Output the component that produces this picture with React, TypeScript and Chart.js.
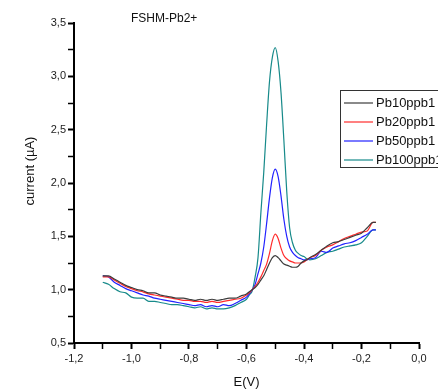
import React, { useEffect, useRef } from "react";
import { Chart, registerables } from "chart.js";

Chart.register(...registerables);

// Potential (V)
const potentials = [
  -1.10, -1.08, -1.06, -1.04, -1.02, -1.00, -0.98, -0.96, -0.94, -0.92,
  -0.90, -0.88, -0.86, -0.84, -0.82, -0.80, -0.78, -0.76, -0.74, -0.72,
  -0.70, -0.68, -0.66, -0.64, -0.62, -0.60,
  -0.59, -0.58, -0.57, -0.56, -0.55, -0.54, -0.53, -0.52, -0.51, -0.50,
  -0.49, -0.48, -0.47, -0.46, -0.45, -0.44, -0.43, -0.42, -0.41, -0.40,
  -0.39, -0.38,
  -0.36, -0.34, -0.32, -0.30, -0.28, -0.26, -0.24, -0.22, -0.20, -0.18,
  -0.16, -0.15,
];

// Current (µA)
const pb10 = [
  1.13, 1.13, 1.10, 1.07, 1.04, 1.02, 1.00, 0.99, 0.97, 0.97,
  0.95, 0.94, 0.93, 0.92, 0.92, 0.91, 0.90, 0.91, 0.90, 0.91,
  0.90, 0.91, 0.92, 0.92, 0.94, 0.96,
  0.98, 1.00, 1.02, 1.05, 1.09, 1.13, 1.19, 1.25, 1.30, 1.32,
  1.30, 1.27, 1.24, 1.23, 1.22, 1.21, 1.21, 1.22, 1.25, 1.27,
  1.28, 1.30,
  1.33, 1.37, 1.41, 1.44, 1.45, 1.47, 1.49, 1.51, 1.53, 1.58,
  1.63, 1.63,
];

const pb20 = [
  1.12, 1.12, 1.09, 1.06, 1.03, 1.01, 0.99, 0.98, 0.96, 0.95,
  0.94, 0.93, 0.92, 0.91, 0.90, 0.90, 0.89, 0.89, 0.88, 0.89,
  0.88, 0.89, 0.90, 0.91, 0.92, 0.95,
  0.97, 1.00, 1.03, 1.07, 1.12, 1.18, 1.24, 1.34, 1.46, 1.52,
  1.48, 1.39, 1.32, 1.29, 1.27, 1.26, 1.25, 1.25, 1.25, 1.26,
  1.28, 1.30,
  1.32, 1.37, 1.40, 1.42, 1.45, 1.48, 1.50, 1.52, 1.54, 1.55,
  1.63, 1.63,
];

const pb50 = [
  1.13, 1.12, 1.07, 1.04, 1.01, 0.99, 0.97, 0.95, 0.94, 0.92,
  0.91, 0.90, 0.89, 0.88, 0.87, 0.86, 0.85, 0.86, 0.84, 0.85,
  0.84, 0.86, 0.85, 0.87, 0.90, 0.93,
  0.96, 1.00, 1.05, 1.15, 1.25, 1.40, 1.62, 1.86, 2.05, 2.13,
  2.06, 1.88, 1.66, 1.50, 1.40, 1.35, 1.32, 1.30, 1.29, 1.28,
  1.28, 1.29,
  1.30, 1.36, 1.35, 1.39, 1.41, 1.43, 1.44, 1.46, 1.49, 1.52,
  1.56, 1.56,
];

const pb100 = [
  1.07, 1.05, 1.01, 0.98, 0.97, 0.93, 0.92, 0.92, 0.89, 0.89,
  0.88, 0.87, 0.86, 0.86, 0.85, 0.84, 0.83, 0.84, 0.82, 0.83,
  0.82, 0.82, 0.83, 0.85, 0.88, 0.91,
  0.95, 0.99, 1.12, 1.30, 1.72, 2.10, 2.55, 2.95, 3.18, 3.27,
  3.14, 2.85, 2.40, 1.92, 1.58, 1.44, 1.37, 1.34, 1.32, 1.31,
  1.29, 1.28,
  1.29, 1.32, 1.35, 1.36, 1.38, 1.40, 1.41, 1.42, 1.44, 1.50,
  1.56, 1.56,
];

const seriesLabels = ["Pb10ppb1", "Pb20ppb1", "Pb50ppb1", "Pb100ppb1"];
const seriesValues = [pb10, pb20, pb50, pb100];
const seriesColors = ["#3c3c3c", "#ff2b2b", "#2222ff", "#178a8a"];

const xTickValues = [-1.2, -1.1, -1.0, -0.9, -0.8, -0.7, -0.6, -0.5, -0.4, -0.3, -0.2, -0.1, 0.0];
const yTickValues = [0.5, 0.75, 1.0, 1.25, 1.5, 1.75, 2.0, 2.25, 2.5, 2.75, 3.0, 3.25, 3.5];

const chartTitle = "FSHM-Pb2+";
const xTitle = "E(V)";
const yTitle = "current (µA)";

const FONT = '"Liberation Sans", Arial, sans-serif';

const fmt = (v: number) => v.toFixed(1).replace(".", ",").replace("-0,0", "0,0");

const overlayPlugin = {
  id: "overlay",
  afterDraw(chart: any) {
    const ctx = chart.ctx as CanvasRenderingContext2D;
    const area = chart.chartArea;
    ctx.save();
    // title
    ctx.font = `12px ${FONT}`;
    ctx.fillStyle = "#111";
    ctx.textAlign = "left";
    ctx.textBaseline = "middle";
    ctx.fillText(chartTitle, area.left + 57, area.top - 4);
    // y-axis title
    ctx.save();
    ctx.translate(30, area.top + 148);
    ctx.rotate(-Math.PI / 2);
    ctx.textAlign = "center";
    ctx.font = `13px ${FONT}`;
    ctx.fillText(yTitle, 0, 0);
    ctx.restore();
    // legend box
    const bx = area.right - 79;
    const by = area.top + 67;
    ctx.strokeStyle = "#333";
    ctx.lineWidth = 1;
    ctx.strokeRect(Math.round(bx) + 0.5, Math.round(by) + 0.5, 120, 77);
    ctx.font = `13px ${FONT}`;
    ctx.textAlign = "left";
    seriesLabels.forEach((label, i) => {
      const y = by + 13 + i * 19;
      ctx.strokeStyle = seriesColors[i];
      ctx.lineWidth = 1.2;
      ctx.beginPath();
      ctx.moveTo(bx + 4, y);
      ctx.lineTo(bx + 33, y);
      ctx.stroke();
      ctx.fillStyle = "#111";
      ctx.fillText(label, bx + 36, y);
    });
    ctx.restore();
  },
};

export default function App() {
  const ref = useRef<HTMLCanvasElement | null>(null);

  useEffect(() => {
    document.body.style.margin = "0";
    const canvas = ref.current;
    if (!canvas) return;
    const datasets = seriesLabels.map((label, i) => ({
      label,
      data: potentials.map((x, j) => ({ x, y: seriesValues[i][j] })),
      borderColor: seriesColors[i],
      backgroundColor: seriesColors[i],
      borderWidth: 1.2,
      pointRadius: 0,
      cubicInterpolationMode: "monotone",
      fill: false,
    }));

    const tickFont = { family: FONT, size: 11 };

    const chart = new Chart(canvas, {
      type: "line",
      data: { datasets },
      plugins: [overlayPlugin],
      options: {
        responsive: false,
        animation: false,
        layout: { padding: { top: 23, right: 19, left: 0, bottom: 0 } },
        plugins: {
          legend: { display: false },
          title: { display: false },
          tooltip: { enabled: false },
        },
        scales: {
          x: {
            type: "linear",
            min: -1.2,
            max: 0,
            afterFit: (s: any) => {
              s.height = 47;
            },
            afterBuildTicks: (s: any) => {
              s.ticks = xTickValues.map((value) => ({ value }));
            },
            ticks: {
              autoSkip: false,
              maxRotation: 0,
              padding: 3,
              color: "#222",
              font: tickFont,
              callback: (v: any, i: number) => (i % 2 === 0 ? fmt(Number(v)) : ""),
            },
            grid: {
              drawOnChartArea: false,
              drawTicks: true,
              tickLength: 6,
              tickColor: "#000",
              tickWidth: (c: any) => (c.index % 2 === 0 ? 2 : 1.5),
            },
            border: { display: true, color: "#000", width: 2 },
            title: {
              display: true,
              text: xTitle,
              padding: 0,
              color: "#111",
              font: { family: FONT, size: 13 },
            },
          },
          y: {
            type: "linear",
            min: 0.5,
            max: 3.5,
            afterFit: (s: any) => {
              s.width = 74;
            },
            afterBuildTicks: (s: any) => {
              s.ticks = yTickValues.map((value) => ({ value }));
            },
            ticks: {
              autoSkip: false,
              padding: 2,
              color: "#222",
              font: tickFont,
              callback: (v: any, i: number) => (i % 2 === 0 ? fmt(Number(v)) : ""),
            },
            grid: {
              drawOnChartArea: false,
              drawTicks: true,
              tickLength: 6,
              tickColor: "#000",
              tickWidth: (c: any) => (c.index % 2 === 0 ? 2 : 1.5),
            },
            border: { display: true, color: "#000", width: 2 },
            title: { display: false },
          },
        },
      },
    } as any);

    return () => chart.destroy();
  }, []);

  return (
    <div style={{ width: 438, height: 390 }}>
      <canvas ref={ref} width={438} height={390} style={{ display: "block" }} />
    </div>
  );
}
